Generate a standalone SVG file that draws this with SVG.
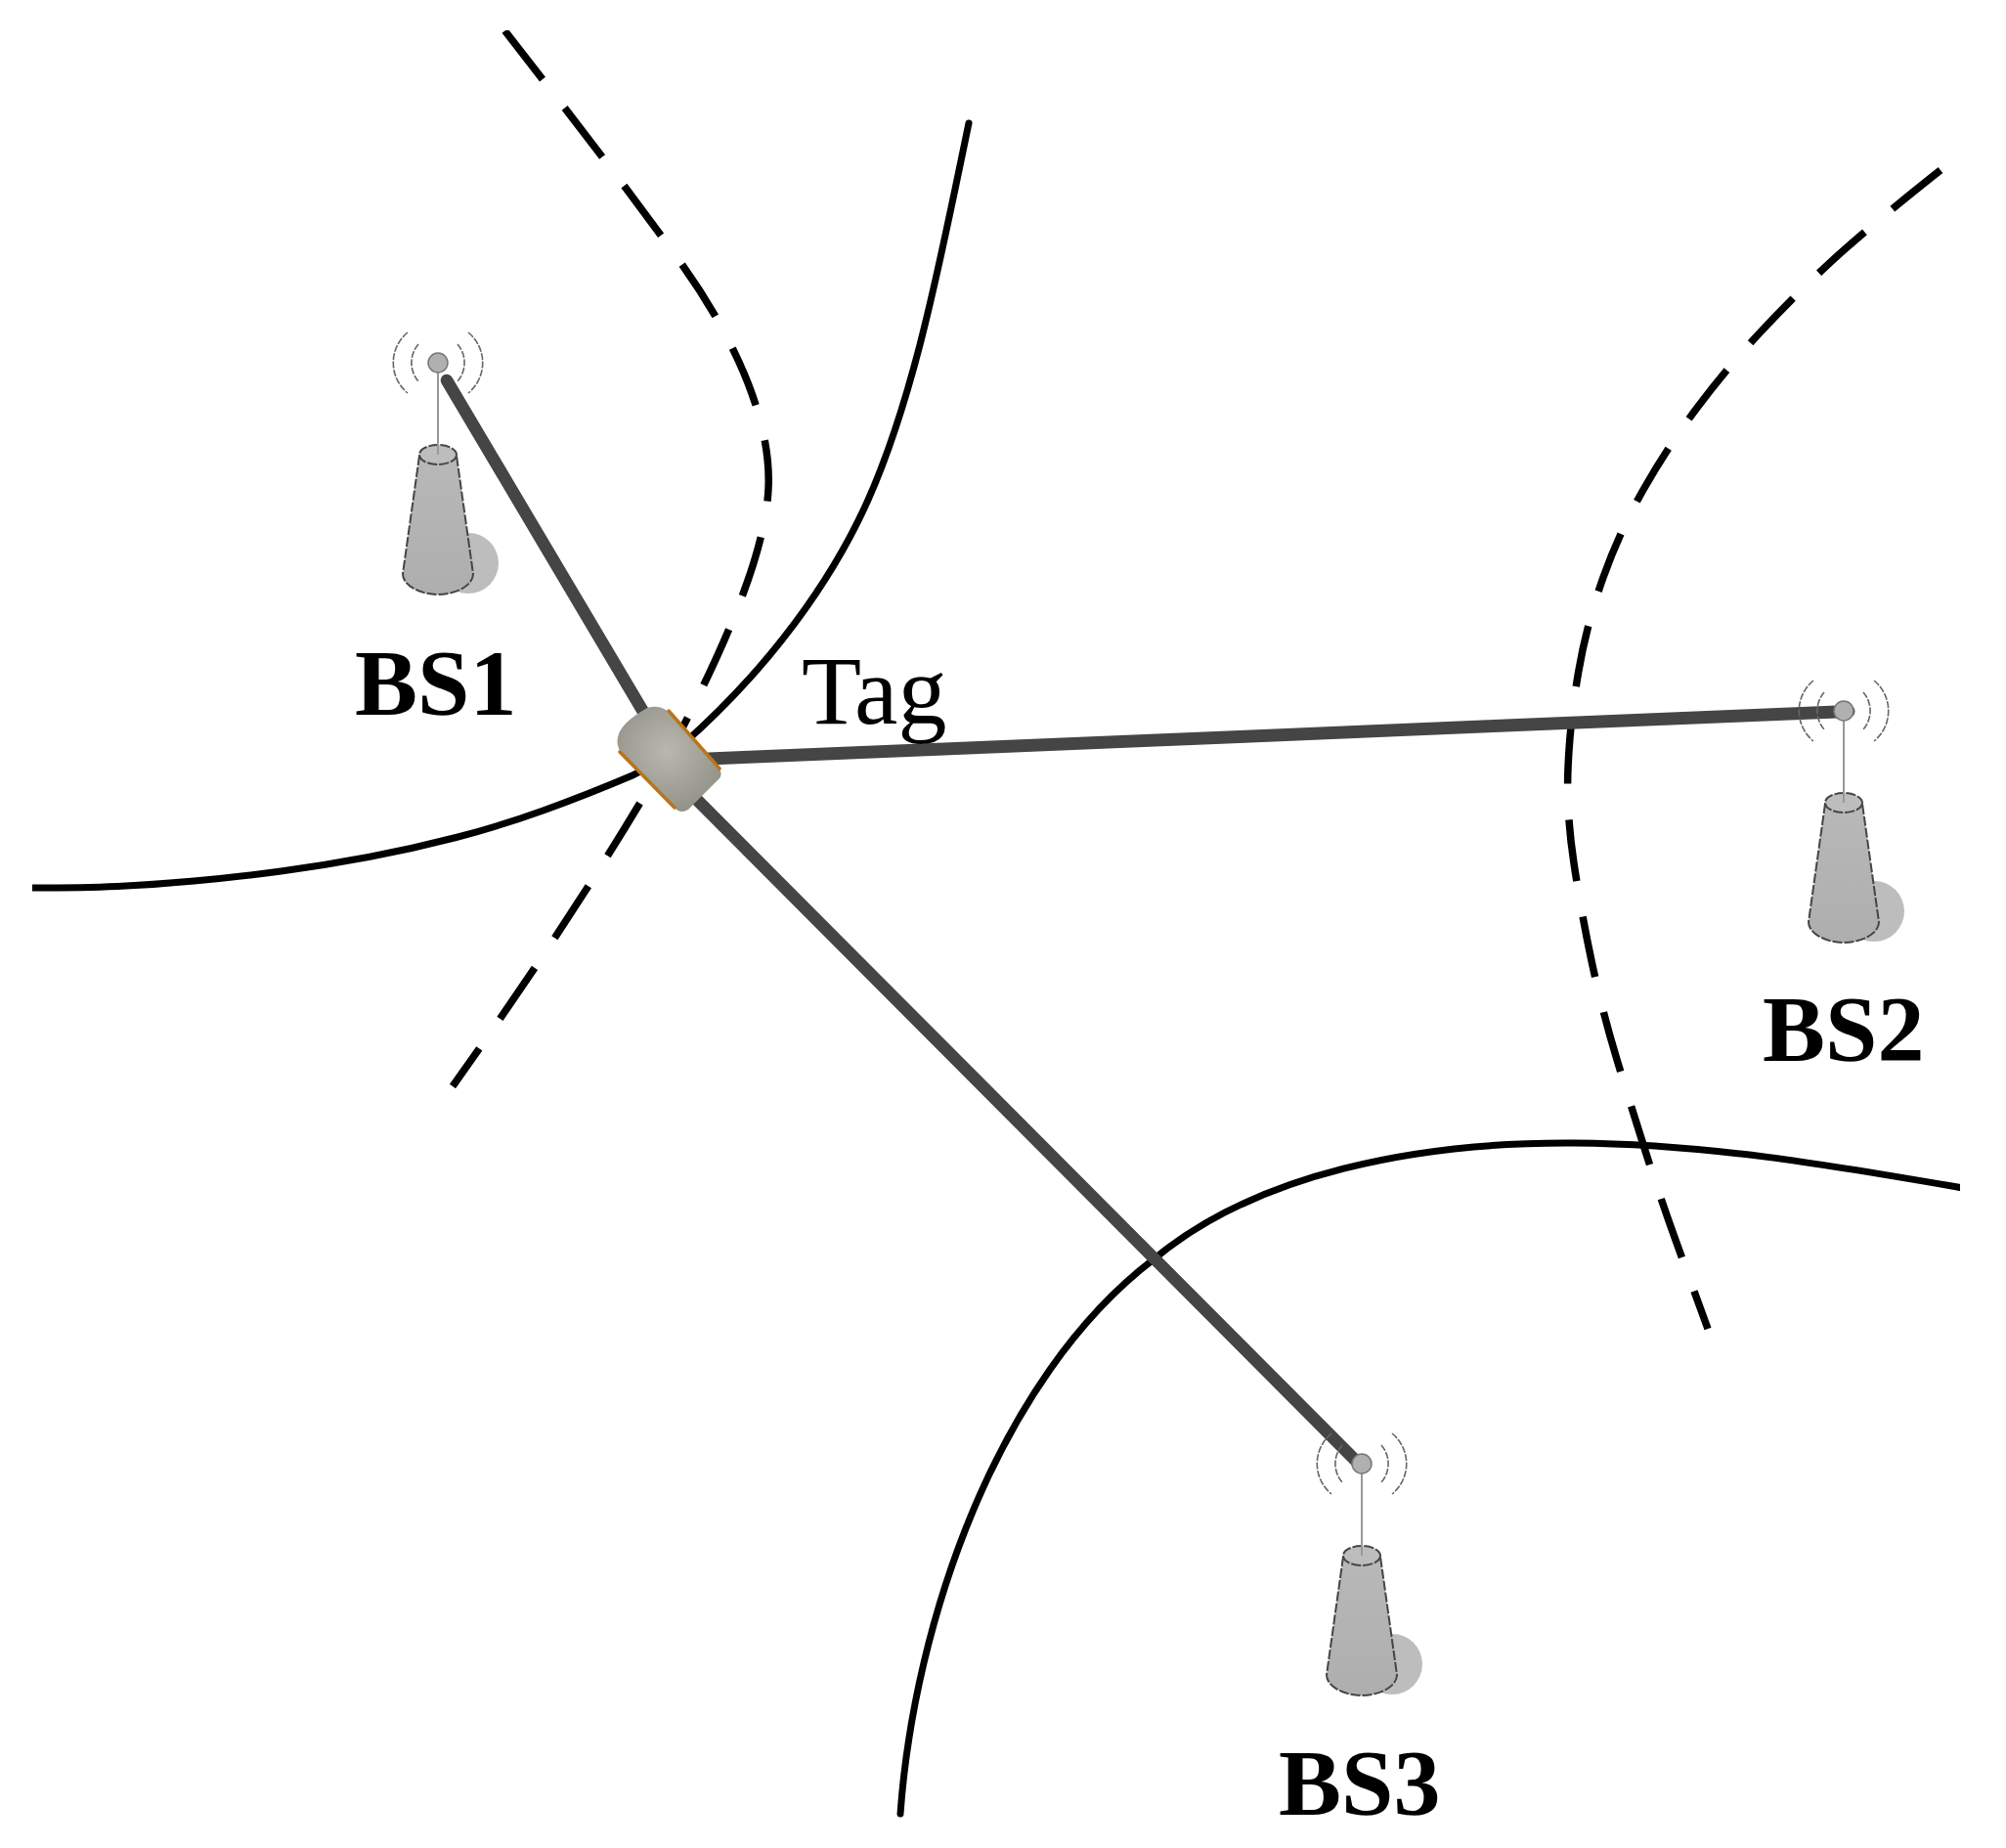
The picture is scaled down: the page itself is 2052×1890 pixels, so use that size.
<svg xmlns="http://www.w3.org/2000/svg" width="2052" height="1890" viewBox="0 0 2052 1890">
<style>
.bs{font:bold 96px "Liberation Serif",serif;fill:#000}
.tag{font:100px "Liberation Serif",serif;fill:#000}
.sol{fill:none;stroke:#000;stroke-width:7;stroke-linecap:round}
.dash{fill:none;stroke:#000;stroke-width:7.5;stroke-dasharray:63 37}
.link{fill:none;stroke:#444;stroke-width:12.5;stroke-linecap:round}
.wave{fill:none;stroke:#666;stroke-width:1.6;stroke-dasharray:7 1.5}
.edge{stroke:#444;stroke-width:2;stroke-dasharray:10 2}
.rim{fill:none;stroke:#b9741f;stroke-width:3.5;stroke-linecap:round}
</style>
<defs>
<filter id="soft" x="0" y="0" width="1" height="1"><feGaussianBlur stdDeviation="0.6"/></filter>
<radialGradient id="tagFill" gradientUnits="userSpaceOnUse" cx="682" cy="768" r="62">
<stop offset="0" stop-color="#b9b8ae"/><stop offset="1" stop-color="#93938a"/>
</radialGradient>
<linearGradient id="bodyFill" x1="0" y1="0" x2="0" y2="1">
<stop offset="0" stop-color="#b8b8b8"/><stop offset="1" stop-color="#aeaeae"/>
</linearGradient>
<g id="tower">
<circle cx="31" cy="205" r="31" fill="#bdbdbd"/>
<path class="edge" d="M-19 95 L-36 216 C-36 228 -18 237 0 237 C18 237 36 228 36 216 L19 95 Z" fill="url(#bodyFill)"/>
<ellipse class="edge" cx="0" cy="94" rx="19" ry="10" fill="#bdbdbd"/>
<line x1="0" y1="9" x2="0" y2="94" stroke="#999" stroke-width="2"/>
<circle r="10" fill="#b0b0b0" stroke="#777" stroke-width="1.5"/>
<path class="wave" d="M-20 -19 A29 29 0 0 0 -20 19 M20 -19 A29 29 0 0 1 20 19"/>
<path class="wave" d="M-31 -31 A40 40 0 0 0 -31 31 M31 -31 A40 40 0 0 1 31 31"/>
</g>
</defs>
<rect width="2052" height="1890" fill="#fff"/>
<g filter="url(#soft)">
<g id="connectors">
<path class="sol" d="M991 126 C962 265 935 410 884 520 C850 593 790 680 700 760"/>
<path class="sol" d="M670 780 Q660 787 647 793 Q600 813 555.500 829 Q511 845 466.500 856.500 Q422 868 377 876.500 Q332 885 287.500 891 Q243 897 198.500 901 Q154 905 120 906.500 Q87 908 33 908"/>
<path class="sol" d="M921 1855 C935 1660 1020 1410 1180 1288 C1285 1200 1450 1168 1610 1169 C1750 1170 1880 1193 2005 1214.500"/>
<path class="dash" d="M516.500 31.500 C575 107 640 190 698 271 C740 330 790 420 786 500 C783 560 750 645 689 762 C640 850 560 975 463 1111"/>
<path class="dash" d="M1985 174 Q1908 235 1871 269.500 Q1834 304 1800 340.500 Q1766 377 1736 417 Q1706 457 1681.500 500 Q1657 543 1640 590.500 Q1623 638 1614.500 688 Q1606 738 1604 785 Q1602 830 1610 883 Q1618 936 1628.500 985 Q1639 1034 1653.500 1082 Q1668 1130 1683 1177 Q1698 1224 1715 1271 Q1732 1318 1747 1359"/>
<line class="link" x1="457" y1="389" x2="664" y2="738"/>
<line class="link" x1="725" y1="776" x2="1891" y2="727.500" style="stroke-width:13"/>
<line class="link" x1="700" y1="805" x2="1387" y2="1494"/>
</g>
<g id="bs1"><use href="#tower" x="448" y="371"/><text class="bs" x="363" y="731">BS1</text></g>
<g id="bs2"><use href="#tower" x="1886" y="727"/><text class="bs" x="1803" y="1085">BS2</text></g>
<g id="bs3"><use href="#tower" x="1393" y="1497"/><text class="bs" x="1308" y="1856">BS3</text></g>
<g id="tag">
<path d="M662 724 Q674 720 684 728 L734 784 Q740 790 736 796 L704 828 Q696 833 690 826 L636 771 Q630 763 632 754 Q634 740 662 724Z" fill="url(#tagFill)"/>
<path class="rim" d="M684 727 L736 786 M634 769 L690 826"/>
<text class="tag" x="820" y="740">Tag</text>
</g>
</g>
</svg>
